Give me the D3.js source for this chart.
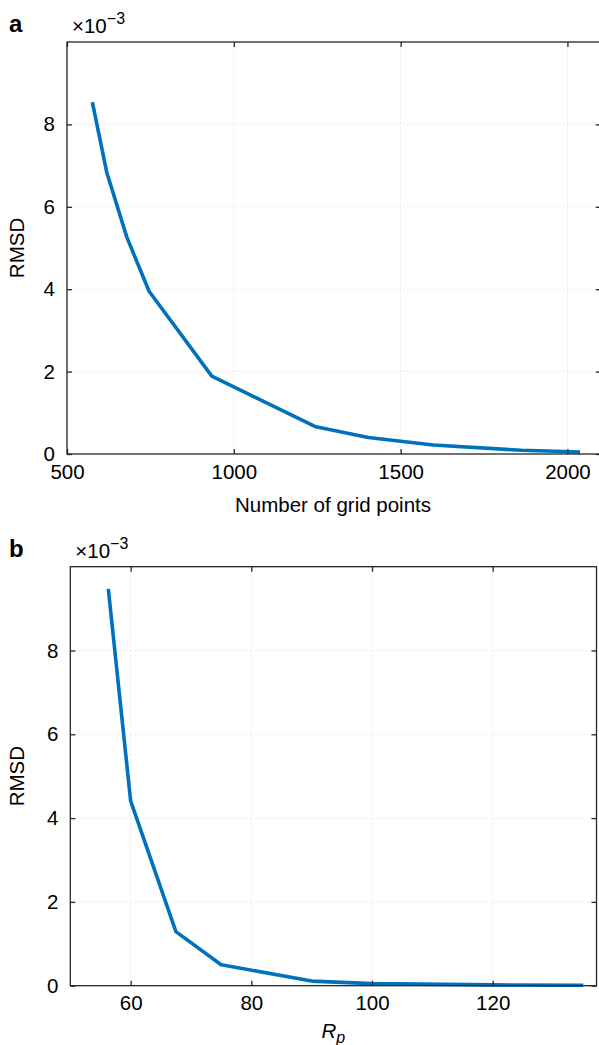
<!DOCTYPE html>
<html>
<head>
<meta charset="utf-8">
<script src="https://cdn.jsdelivr.net/npm/d3@7"></script>
<style>
  html, body { margin: 0; padding: 0; background: #fff; }
  svg { display: block; font-family: "Liberation Sans", Arial, Helvetica, sans-serif; }
</style>
</head>
<body>
<svg id="chart" width="599" height="1045"></svg>
<script>
// Panel a: convergence against grid resolution
const gridPoints = [576, 619, 679, 746, 934, 1246, 1403, 1598, 1862, 2038];
const rmsdGrid   = [8.54e-3, 6.84e-3, 5.27e-3, 3.95e-3, 1.89e-3, 0.66e-3, 0.40e-3, 0.22e-3, 0.09e-3, 0.05e-3];
const gridTicks  = [500, 1000, 1500, 2000];

// Panel b: convergence against R_p
const rpValues = [56.3, 60, 67.5, 75, 90, 100, 120, 135];
const rmsdRp   = [9.47e-3, 4.41e-3, 1.29e-3, 0.50e-3, 0.11e-3, 0.05e-3, 0.02e-3, 0.01e-3];
const rpTicks  = [60, 80, 100, 120];

const rmsdTicks = [0, 0.002, 0.004, 0.006, 0.008];

const svg = d3.select("#chart");
const axisColor = "#262626";
const lineColor = "#0072BD";
const fs = 20.5;

function panel(opt) {
  const { left, right, top, bottom, xDomain, xTicks, xs, ys, letter, xLabel, italicLabel, xLabelGap } = opt;
  const g = svg.append("g");
  const x = d3.scaleLinear().domain(xDomain).range([left, right]);
  const y = d3.scaleLinear().domain([0, 0.01]).range([bottom, top]);

  // grid
  g.selectAll(".gx").data(xTicks).join("line")
    .attr("x1", d => x(d)).attr("x2", d => x(d))
    .attr("y1", top).attr("y2", bottom)
    .attr("stroke", "#e4e4e4").attr("stroke-width", 1).attr("stroke-dasharray", "1.5,2.5");
  g.selectAll(".gy").data(rmsdTicks.slice(1)).join("line")
    .attr("x1", left).attr("x2", right)
    .attr("y1", d => y(d)).attr("y2", d => y(d))
    .attr("stroke", "#e4e4e4").attr("stroke-width", 1).attr("stroke-dasharray", "1.5,2.5");

  // data line
  const line = d3.line().x((d, i) => x(xs[i])).y(d => y(d));
  g.append("path").datum(ys)
    .attr("d", line)
    .attr("fill", "none").attr("stroke", lineColor)
    .attr("stroke-width", 3.6).attr("stroke-linejoin", "round");

  // axes (ticks pointing inward, as a boxed plot)
  const tl = 5;
  const bottomAxis = d3.axisBottom(x).tickValues(xTicks).tickSize(-tl).tickPadding(10).tickFormat(d3.format("d"));
  const topAxis = d3.axisTop(x).tickValues(xTicks).tickSize(-tl).tickFormat("");
  const leftAxis = d3.axisLeft(y).tickValues(rmsdTicks).tickSize(-tl).tickPadding(12).tickFormat(d => d3.format("d")(Math.round(d * 1000)));
  const rightAxis = d3.axisRight(y).tickValues(rmsdTicks).tickSize(-tl).tickFormat("");

  const styleAxis = sel => {
    sel.selectAll("path").attr("stroke", axisColor).attr("stroke-width", 1.3);
    sel.selectAll("line").attr("stroke", axisColor).attr("stroke-width", 1.3);
    sel.selectAll("text").attr("fill", "#000").attr("font-size", fs)
      .attr("font-family", "'Liberation Sans', Arial, Helvetica, sans-serif");
  };
  g.append("g").attr("transform", `translate(0,${bottom})`).call(bottomAxis).call(styleAxis)
    .selectAll("text").attr("dy", "0.71em");
  g.append("g").attr("transform", `translate(0,${top})`).call(topAxis).call(styleAxis);
  g.append("g").attr("transform", `translate(${left},0)`).call(leftAxis).call(styleAxis);
  g.append("g").attr("transform", `translate(${right},0)`).call(rightAxis).call(styleAxis);
  g.selectAll(".domain").attr("d", null);
  g.append("rect").attr("x", left).attr("y", top).attr("width", right - left).attr("height", bottom - top)
    .attr("fill", "none").attr("stroke", axisColor).attr("stroke-width", 1.3);

  // exponent marker
  const ex = g.append("text").attr("x", left + 5).attr("y", top - 9)
    .attr("font-size", fs).attr("fill", "#000");
  ex.append("tspan").text("\u00d710");
  ex.append("tspan").attr("dy", -9).attr("font-size", 16).text("\u22123");

  // panel letter
  g.append("text").attr("x", 9).attr("y", top - 10).attr("font-size", 24)
    .attr("font-weight", "bold").attr("fill", "#000").text(letter);

  // y label
  g.append("text").attr("transform", `translate(24,${(top + bottom) / 2}) rotate(-90)`)
    .attr("text-anchor", "middle").attr("font-size", fs).attr("fill", "#000").text("RMSD");

  // x label
  const xl = g.append("text").attr("x", (left + Math.min(right, 599)) / 2)
    .attr("y", bottom + xLabelGap).attr("text-anchor", "middle")
    .attr("font-size", fs).attr("fill", "#000");
  if (italicLabel) {
    xl.attr("font-style", "italic");
    xl.append("tspan").text("R");
    xl.append("tspan").attr("dy", 5).attr("font-size", 16).text("p");
  } else {
    xl.text(xLabel);
  }
}

panel({ left: 67, right: 600.8, top: 42, bottom: 454, xDomain: [500, 2100], xTicks: gridTicks,
        xs: gridPoints, ys: rmsdGrid, letter: "a", xLabel: "Number of grid points", italicLabel: false, xLabelGap: 58 });
panel({ left: 70.3, right: 596.5, top: 566.7, bottom: 985.7, xDomain: [50, 137.2], xTicks: rpTicks,
        xs: rpValues, ys: rmsdRp, letter: "b", xLabel: "R_p", italicLabel: true, xLabelGap: 52 });
</script>
</body>
</html>
